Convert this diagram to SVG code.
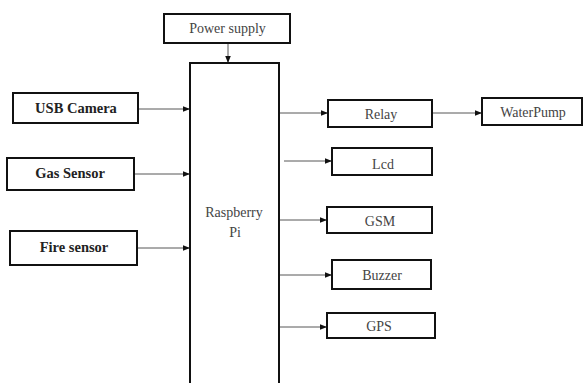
<svg xmlns="http://www.w3.org/2000/svg" width="585" height="383" viewBox="0 0 585 383">
<style>
.box{fill:#fff;stroke:#111;stroke-width:2}
text{font-family:'Liberation Serif','Times New Roman',serif;text-anchor:middle}
.t{font-size:14px;fill:#444}
.b{font-size:14.5px;font-weight:bold;fill:#222}
.c{stroke:#444;stroke-width:0.9;fill:none;marker-end:url(#ah)}
</style>
<defs>
<marker id="ah" viewBox="0 0 10 10" refX="10" refY="5" markerWidth="7" markerHeight="7" markerUnits="userSpaceOnUse" orient="auto">
<path d="M0,1 L10,5 L0,9 Z" fill="#111"/>
</marker>
</defs>
<rect width="585" height="383" fill="#fff"/>
<g id="connectors">
<line class="c" x1="228" y1="43" x2="228" y2="63"/>
<line class="c" x1="138" y1="109" x2="190" y2="109"/>
<line class="c" x1="134" y1="174" x2="190" y2="174"/>
<line class="c" x1="137" y1="248" x2="190" y2="248"/>
<line class="c" x1="280" y1="113" x2="328" y2="113"/>
<line class="c" x1="284" y1="161" x2="332" y2="161"/>
<line class="c" x1="280" y1="220" x2="327" y2="220"/>
<line class="c" x1="280" y1="275" x2="332" y2="275"/>
<line class="c" x1="280" y1="327" x2="327" y2="327"/>
<line class="c" x1="432" y1="113" x2="482" y2="113"/>
</g>
<g id="power"><rect class="box" x="164" y="14" width="126" height="29"/><text class="t" x="227.5" y="33">Power supply</text></g>
<g id="pi"><rect class="box" x="190" y="63" width="89" height="325"/><text class="t" x="234" y="217">Raspberry</text><text class="t" x="235" y="237">Pi</text></g>
<g id="usb"><rect class="box" x="13" y="93" width="125" height="30"/><text class="b" x="76" y="113">USB Camera</text></g>
<g id="gas"><rect class="box" x="7" y="158" width="127" height="32"/><text class="b" x="70" y="178">Gas Sensor</text></g>
<g id="fire"><rect class="box" x="10" y="231" width="127" height="34"/><text class="b" x="74" y="252">Fire sensor</text></g>
<g id="relay"><rect class="box" x="328" y="100" width="104" height="27"/><text class="t" x="381" y="119">Relay</text></g>
<g id="lcd"><rect class="box" x="332" y="148" width="100" height="27"/><text class="t" x="383" y="169">Lcd</text></g>
<g id="gsm"><rect class="box" x="327" y="207" width="105" height="26"/><text class="t" x="380" y="226">GSM</text></g>
<g id="buzzer"><rect class="box" x="332" y="260" width="99" height="29"/><text class="t" x="382" y="280">Buzzer</text></g>
<g id="gps"><rect class="box" x="327" y="313" width="108" height="25"/><text class="t" x="379" y="331">GPS</text></g>
<g id="pump"><rect class="box" x="482" y="98" width="100" height="27"/><text class="t" x="533" y="117">WaterPump</text></g>
</svg>
